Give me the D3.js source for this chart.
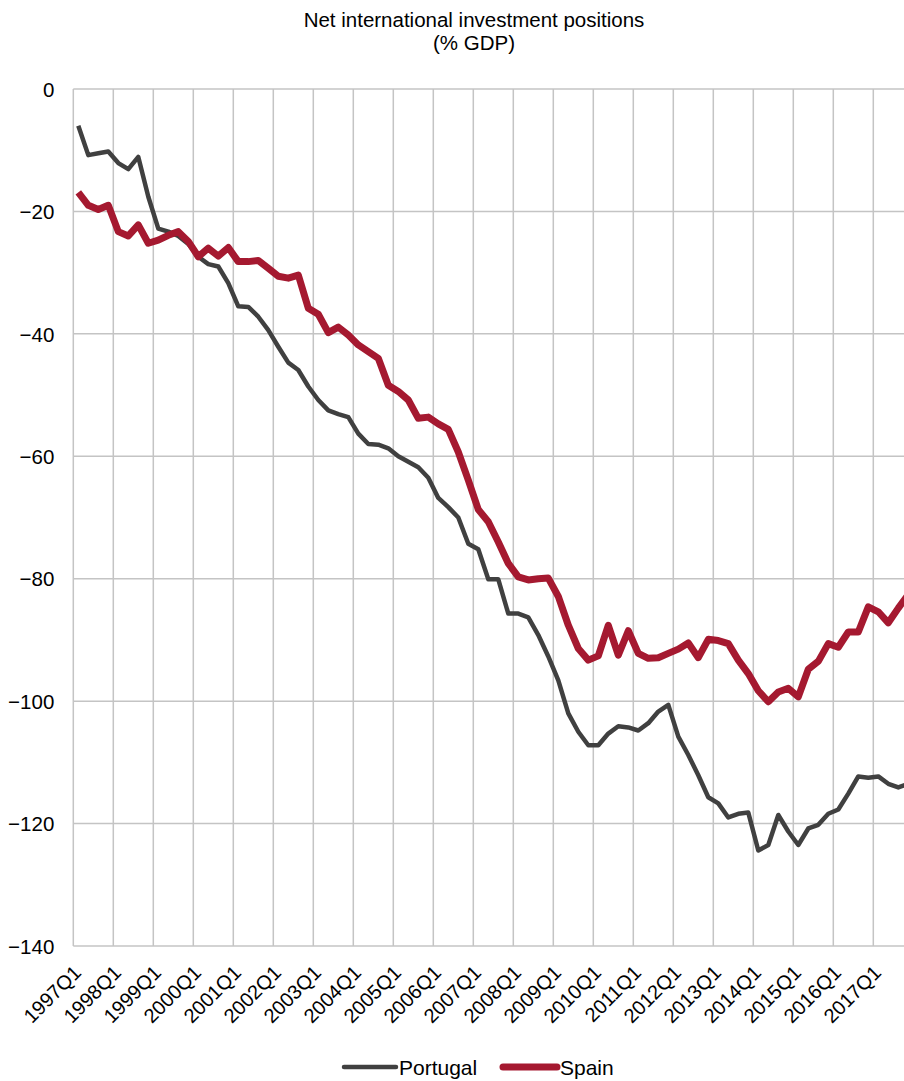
<!DOCTYPE html>
<html>
<head>
<meta charset="utf-8">
<script src="https://cdn.jsdelivr.net/npm/d3@7"></script>
<style>
  body { margin: 0; background: #fff; }
  svg { display: block; font-family: "Liberation Sans", Arial, sans-serif; }
</style>
</head>
<body>
<script>
  // quarters 1997Q1 .. 2017Q4
  const years = d3.range(1997, 2018);
  const quarters = years.flatMap((y) => [1, 2, 3, 4].map((q) => `${y}Q${q}`));

  const portugal = [
    -6.0, -10.8, -10.5, -10.2, -12.1, -13.1, -11.1, -17.6,
    -22.8, -23.3, -24.0, -25.3, -27.4, -28.6, -29.0, -31.7,
    -35.5, -35.6, -37.2, -39.4, -42.1, -44.7, -45.9, -48.6,
    -50.8, -52.5, -53.1, -53.6, -56.3, -58.0, -58.1, -58.7,
    -60.0, -60.9, -61.8, -63.5, -66.8, -68.3, -70.0, -74.3,
    -75.2, -80.1, -80.1, -85.7, -85.7, -86.3, -89.2, -92.7,
    -96.6, -102.0, -105.0, -107.2, -107.2, -105.3, -104.1, -104.3,
    -104.8, -103.6, -101.7, -100.6, -105.8, -108.8, -112.1, -115.7,
    -116.7, -119.0, -118.4, -118.2, -124.4, -123.5, -118.6, -121.3,
    -123.5, -120.8, -120.2, -118.4, -117.7, -115.1, -112.3, -112.5,
    -112.3, -113.5, -114.1, -113.5,
  ];

  const spain = [
    -16.9, -19.0, -19.7, -19.0, -23.3, -24.0, -22.2, -25.2,
    -24.7, -23.9, -23.3, -24.9, -27.4, -26.0, -27.3, -25.9,
    -28.2, -28.2, -28.0, -29.3, -30.6, -30.9, -30.4, -35.8,
    -36.8, -39.8, -38.9, -40.2, -41.8, -42.9, -44.0, -48.4,
    -49.4, -50.8, -53.8, -53.6, -54.7, -55.6, -59.3, -63.9,
    -68.7, -70.7, -74.0, -77.5, -79.7, -80.2, -80.0, -79.9,
    -82.9, -87.6, -91.4, -93.3, -92.6, -87.6, -92.5, -88.5,
    -92.2, -93.0, -92.9, -92.2, -91.5, -90.5, -92.9, -89.9,
    -90.1, -90.6, -93.3, -95.5, -98.3, -100.1, -98.5, -97.9,
    -99.3, -94.8, -93.5, -90.6, -91.2, -88.7, -88.7, -84.6,
    -85.4, -87.2, -84.8, -82.6,
  ];

  const yTicks = [0, -20, -40, -60, -80, -100, -120, -140];
  const xTickLabels = years.map((y) => `${y}Q1`);

  const series = [
    { name: "Portugal", values: portugal, color: "#404040", width: 4.5 },
    { name: "Spain", values: spain, color: "#a51930", width: 7 },
  ];

  const width = 904;
  const height = 1081;
  const margin = { top: 89, left: 73.3, bottom: 135 };

  const svg = d3
    .select("body")
    .append("svg")
    .attr("width", width)
    .attr("height", height);

  const x = d3
    .scaleBand()
    .domain(quarters)
    .range([margin.left, margin.left + quarters.length * 10]);

  const y = d3
    .scaleLinear()
    .domain([0, -140])
    .range([margin.top, height - margin.bottom]);

  const cx = (q) => x(q) + x.bandwidth() / 2;

  // title
  svg
    .append("text")
    .attr("x", 474)
    .attr("y", 27)
    .attr("text-anchor", "middle")
    .attr("font-size", 20.5)
    .text("Net international investment positions");
  svg
    .append("text")
    .attr("x", 474)
    .attr("y", 50)
    .attr("text-anchor", "middle")
    .attr("font-size", 20.5)
    .text("(% GDP)");

  // grid
  const grid = svg.append("g").attr("stroke", "#c4c4c4").attr("stroke-width", 1.5);

  grid
    .selectAll("line.h")
    .data(yTicks)
    .join("line")
    .attr("class", "h")
    .attr("x1", margin.left)
    .attr("x2", width)
    .attr("y1", (d) => y(d))
    .attr("y2", (d) => y(d));

  grid
    .selectAll("line.v")
    .data(xTickLabels)
    .join("line")
    .attr("class", "v")
    .attr("x1", (d) => x(d))
    .attr("x2", (d) => x(d))
    .attr("y1", y(0))
    .attr("y2", y(-140));

  // y axis labels
  const yAxis = svg
    .append("g")
    .attr("transform", `translate(${margin.left - 19},0)`)
    .call(d3.axisLeft(y).tickValues(yTicks).tickSize(0).tickPadding(0));
  yAxis.select(".domain").remove();
  yAxis
    .selectAll("text")
    .attr("font-size", 20.5)
    .attr("font-family", "Liberation Sans, Arial, sans-serif")
    .attr("fill", "#000")
    .attr("dy", "0.35em");

  // x axis labels
  const xAxis = svg
    .append("g")
    .attr("transform", `translate(0,${y(-140)})`)
    .call(
      d3
        .axisBottom(x)
        .tickValues(xTickLabels)
        .tickSize(0)
        .tickPadding(0)
    );
  xAxis.select(".domain").remove();
  xAxis
    .selectAll("text")
    .attr("font-size", 20)
    .attr("font-family", "Liberation Sans, Arial, sans-serif")
    .attr("fill", "#000")
    .attr("text-anchor", "end")
    .attr("dy", null)
    .attr("y", 0)
    .attr("transform", "translate(4,28) rotate(-45)");

  // lines
  const line = d3
    .line()
    .x((d, i) => cx(quarters[i]))
    .y((d) => y(d));

  svg
    .append("g")
    .selectAll("path")
    .data(series)
    .join("path")
    .attr("fill", "none")
    .attr("stroke", (d) => d.color)
    .attr("stroke-width", (d) => d.width)
    .attr("stroke-linejoin", "round")
    .attr("d", (d) => line(d.values));

  // legend
  const legendItems = [
    { s: series[0], x: 344, len: 52 },
    { s: series[1], x: 503, len: 54 },
  ];
  const legend = svg.append("g").attr("transform", "translate(0,1067)");
  legendItems.forEach(({ s, x: lx, len }) => {
    legend
      .append("line")
      .attr("x1", lx)
      .attr("x2", lx + len)
      .attr("stroke", s.color)
      .attr("stroke-width", s.width)
      .attr("stroke-linecap", "round");
    legend
      .append("text")
      .attr("x", lx + len + 3)
      .attr("y", 7.5)
      .attr("font-size", 21)
      .text(s.name);
  });
</script>
</body>
</html>
